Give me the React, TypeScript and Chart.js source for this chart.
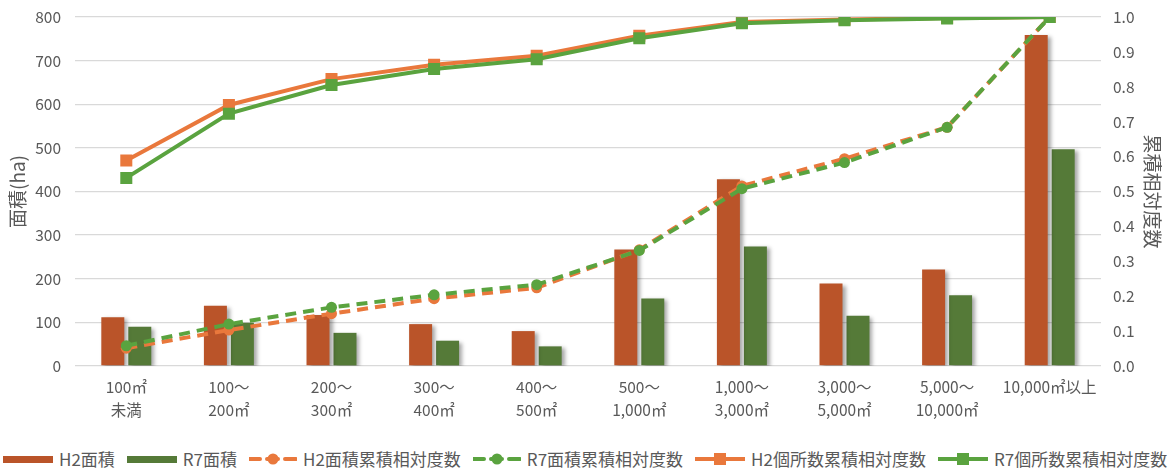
import React, { useEffect, useRef } from "react";
import { Chart, registerables } from "chart.js";

Chart.register(...registerables);

const FONT = "'Noto Sans CJK JP', 'Noto Sans', sans-serif";
const TEXT = "#595959";

const categories: string[][] = [
  ["100㎡", "未満"],
  ["100～", "200㎡"],
  ["200～", "300㎡"],
  ["300～", "400㎡"],
  ["400～", "500㎡"],
  ["500～", "1,000㎡"],
  ["1,000～", "3,000㎡"],
  ["3,000～", "5,000㎡"],
  ["5,000～", "10,000㎡"],
  ["10,000㎡以上"],
];

const h2Area = [112, 138, 117, 96, 80, 267, 428, 189, 221, 759];
const r7Area = [90, 99, 76, 58, 45, 155, 274, 115, 162, 497];
const h2AreaCum = [0.051, 0.103, 0.150, 0.193, 0.224, 0.333, 0.516, 0.594, 0.684, 1.0];
const r7AreaCum = [0.058, 0.120, 0.168, 0.204, 0.233, 0.331, 0.508, 0.583, 0.684, 1.0];
const h2CountCum = [0.589, 0.748, 0.822, 0.863, 0.889, 0.946, 0.986, 0.993, 0.997, 1.0];
const r7CountCum = [0.539, 0.723, 0.805, 0.851, 0.879, 0.939, 0.982, 0.991, 0.996, 1.0];

const leftTicksMax = 800;
const leftTicksStep = 100;
const rightTicksMax = 1.0;
const rightTicksStep = 0.1;

const seriesNames = [
  "H2面積",
  "R7面積",
  "H2面積累積相対度数",
  "R7面積累積相対度数",
  "H2個所数累積相対度数",
  "R7個所数累積相対度数",
];

const C_H2_BAR = "#BA5429";
const C_R7_BAR = "#557A38";
const C_ORANGE = "#E9783C";
const C_GREEN = "#5AA33F";

const shadowPlugin = {
  id: "barShadow",
  beforeDatasetDraw(chart: any, args: any) {
    const ds = chart.data.datasets[args.index];
    if (ds.type === "bar") {
      const ctx = chart.ctx;
      ctx.save();
      ctx.shadowColor = "rgba(0,0,0,0.35)";
      ctx.shadowBlur = 4;
      ctx.shadowOffsetX = 3;
      ctx.shadowOffsetY = 2;
    }
  },
  afterDatasetDraw(chart: any, args: any) {
    const ds = chart.data.datasets[args.index];
    if (ds.type === "bar") {
      chart.ctx.restore();
    }
  },
};

function Swatch({ kind, color }: { kind: string; color: string }) {
  if (kind === "bar") {
    return (
      <svg width="50" height="14" style={{ display: "block" }}>
        <rect x="0" y="4" width="50" height="7" fill={color} />
      </svg>
    );
  }
  if (kind === "dash") {
    return (
      <svg width="48" height="14" style={{ display: "block" }}>
        <line x1="0" y1="7" x2="48" y2="7" stroke={color} strokeWidth="4" strokeDasharray="11 7" strokeLinecap="round" />
        <circle cx="24" cy="7" r="5.5" fill={color} />
      </svg>
    );
  }
  return (
    <svg width="50" height="14" style={{ display: "block" }}>
      <line x1="0" y1="7" x2="50" y2="7" stroke={color} strokeWidth="4" strokeLinecap="round" />
      <rect x="19" y="1" width="12" height="12" fill={color} />
    </svg>
  );
}

export default function App() {
  const ref = useRef<HTMLCanvasElement | null>(null);

  useEffect(() => {
    if (!ref.current) return;
    const chart = new Chart(ref.current, {
      type: "bar",
      data: {
        labels: categories,
        datasets: [
          {
            type: "bar",
            label: seriesNames[0],
            data: h2Area,
            backgroundColor: C_H2_BAR,
            yAxisID: "y",
            order: 10,
            categoryPercentage: 0.526,
            barPercentage: 0.852,
          },
          {
            type: "bar",
            label: seriesNames[1],
            data: r7Area,
            backgroundColor: C_R7_BAR,
            yAxisID: "y",
            order: 10,
            categoryPercentage: 0.526,
            barPercentage: 0.852,
          },
          {
            type: "line",
            label: seriesNames[2],
            data: h2AreaCum,
            borderColor: C_ORANGE,
            backgroundColor: C_ORANGE,
            borderWidth: 4,
            borderDash: [11, 7],
            pointStyle: "circle",
            pointRadius: 5.5,
            pointBorderWidth: 0,
            yAxisID: "y1",
            order: 4,
          },
          {
            type: "line",
            label: seriesNames[3],
            data: r7AreaCum,
            borderColor: C_GREEN,
            backgroundColor: C_GREEN,
            borderWidth: 4,
            borderDash: [11, 7],
            pointStyle: "circle",
            pointRadius: 5.5,
            pointBorderWidth: 0,
            yAxisID: "y1",
            order: 3,
          },
          {
            type: "line",
            label: seriesNames[4],
            data: h2CountCum,
            borderColor: C_ORANGE,
            backgroundColor: C_ORANGE,
            borderWidth: 4,
            pointStyle: "rect",
            pointRadius: 8.5,
            pointBorderWidth: 0,
            yAxisID: "y1",
            order: 2,
          },
          {
            type: "line",
            label: seriesNames[5],
            data: r7CountCum,
            borderColor: C_GREEN,
            backgroundColor: C_GREEN,
            borderWidth: 4,
            pointStyle: "rect",
            pointRadius: 8.5,
            pointBorderWidth: 0,
            yAxisID: "y1",
            order: 1,
          },
        ] as any,
      },
      options: {
        animation: false,
        responsive: false,
        maintainAspectRatio: false,
        layout: { padding: { top: 17, left: 0, right: 0, bottom: 0 } },
        plugins: {
          legend: { display: false },
          tooltip: { enabled: false },
        },
        scales: {
          x: {
            grid: { display: false, drawTicks: false },
            border: { display: false },
            ticks: {
              color: TEXT,
              font: { family: FONT, size: 15.5, lineHeight: 1.45 },
              padding: 10,
              maxRotation: 0,
              autoSkip: false,
            },
            afterFit(scale: any) {
              scale.height = 74;
            },
          },
          y: {
            position: "left",
            min: 0,
            max: leftTicksMax,
            grid: { color: "#D9D9D9", lineWidth: 1.3, drawTicks: false },
            border: { display: false },
            ticks: {
              stepSize: leftTicksStep,
              color: TEXT,
              font: { family: FONT, size: 15.5 },
              padding: 14,
            },
            title: {
              display: true,
              text: "面積(ha)",
              color: TEXT,
              font: { family: FONT, size: 19 },
              padding: { top: 6, bottom: 0 },
            },
            afterFit(scale: any) {
              scale.width = 75;
              scale.paddingTop = 0;
              scale.paddingBottom = 0;
            },
          },
          y1: {
            position: "right",
            min: 0,
            max: rightTicksMax,
            grid: { display: false, drawTicks: false },
            border: { display: false },
            ticks: {
              stepSize: rightTicksStep,
              color: TEXT,
              font: { family: FONT, size: 15.5 },
              padding: 12,
              callback: (v: any) => Number(v).toFixed(1),
            },
            title: {
              display: true,
              text: "累積相対度数",
              color: TEXT,
              font: { family: FONT, size: 19 },
              padding: { top: 10, bottom: 0 },
            },
            afterFit(scale: any) {
              scale.width = 73;
              scale.paddingTop = 0;
              scale.paddingBottom = 0;
            },
          },
        },
      } as any,
      plugins: [shadowPlugin],
    });
    return () => chart.destroy();
  }, []);

  const legendItems = [
    { kind: "bar", color: C_H2_BAR, text: seriesNames[0] },
    { kind: "bar", color: C_R7_BAR, text: seriesNames[1] },
    { kind: "dash", color: C_ORANGE, text: seriesNames[2] },
    { kind: "dash", color: C_GREEN, text: seriesNames[3] },
    { kind: "line", color: C_ORANGE, text: seriesNames[4] },
    { kind: "line", color: C_GREEN, text: seriesNames[5] },
  ];

  return (
    <div style={{ position: "absolute", left: 0, top: 0, width: 1174, height: 472, background: "#fff", overflow: "hidden" }}>
      <canvas ref={ref} width={1174} height={440} style={{ display: "block", width: 1174, height: 440 }} />
      <div
        style={{
          position: "absolute",
          left: 3,
          top: 448,
          display: "flex",
          alignItems: "center",
          fontFamily: FONT,
          fontSize: 17,
          color: TEXT,
          whiteSpace: "nowrap",
          lineHeight: "22px",
        }}
      >
        {legendItems.map((it, i) => (
          <div key={i} style={{ display: "flex", alignItems: "center", marginRight: 12 }}>
            <Swatch kind={it.kind} color={it.color} />
            <span style={{ marginLeft: 6 }}>{it.text}</span>
          </div>
        ))}
      </div>
    </div>
  );
}
